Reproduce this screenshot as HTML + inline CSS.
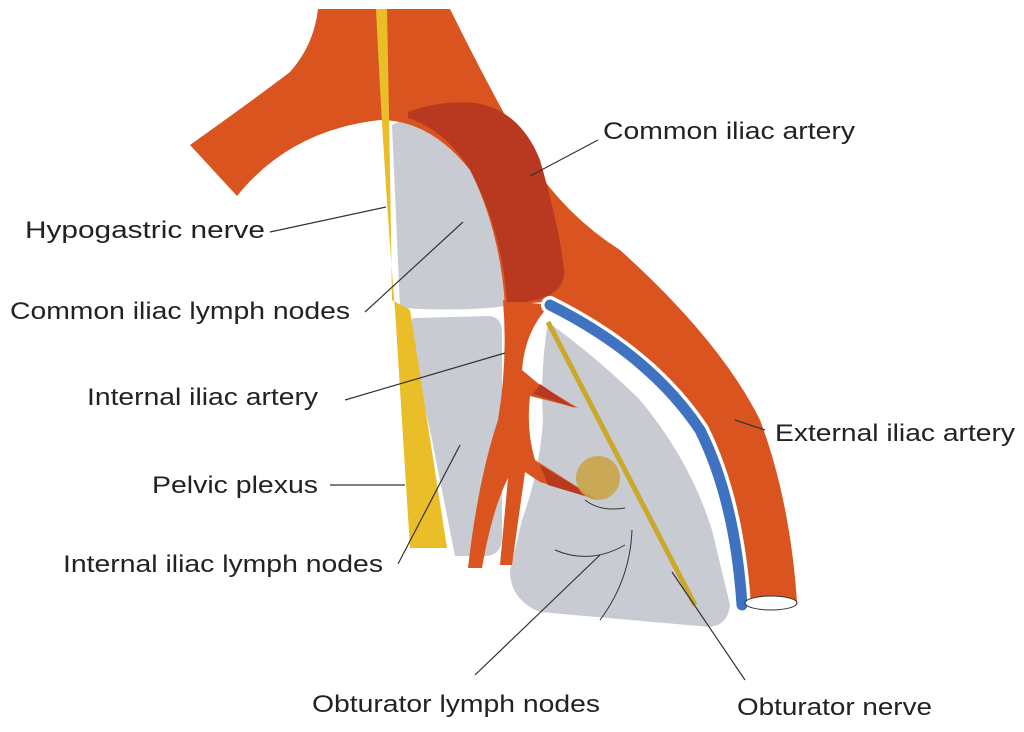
<!DOCTYPE html>
<html><head><meta charset="utf-8"><style>
html,body{margin:0;padding:0;background:#fff;}
svg{display:block}
text{font-family:"Liberation Sans",Arial,sans-serif;font-size:24px;fill:#222;}
</style></head><body>
<svg width="1024" height="732" viewBox="0 0 1024 732" xmlns="http://www.w3.org/2000/svg">
<!-- grey lymph nodes -->
<path d="M392,125 L420,112 Q490,150 510,240 L512,305 Q470,312 400,308 Z" fill="#c9cbd3"/>
<path d="M414,318 L490,316 Q502,318 502,332 L502,540 Q500,556 485,556 L455,556 L432,440 L408,330 Q410,318 414,318 Z" fill="#c9cbd3"/>
<path d="M548,322 Q600,360 640,400 Q690,460 712,530 L730,605 Q728,625 710,627 L540,612 Q510,600 510,570 L522,520 Q540,470 543,420 Q540,370 548,322 Z" fill="#c9cbd3"/>
<!-- common trunk + left branch + external -->
<path d="M318,9 L450,9 Q490,90 530,160 Q565,215 620,250 Q720,340 760,420 Q790,500 797,602 L745,602 Q735,500 700,440 Q650,360 545,302 L505,305 Q500,230 470,170 Q430,120 380,120 Q290,130 237,196 L190,145 Q260,95 290,72 Q314,45 318,9 Z" fill="#d9541e"/>
<!-- internal iliac -->
<path d="M503,300 L550,305 Q525,330 522,370 L540,385 L578,408 L530,396 Q526,430 535,460 L598,500 L540,482 L525,472 L512,565 L500,565 L508,478 Q492,510 482,568 L468,568 Q478,480 498,420 Q508,360 503,300 Z" fill="#d9541e"/>
<!-- darker overlay -->
<path d="M408,112 Q440,100 475,103 Q520,110 540,160 Q560,230 564,270 Q566,296 525,302 L507,302 Q502,230 470,170 Q445,130 408,118 Z" fill="#b8391f"/>
<!-- dark tines -->
<path d="M540,384 L575,408 L533,394 Z" fill="#b8391f"/>
<path d="M540,465 L598,500 L548,485 Z" fill="#b8391f"/>
<!-- obturator yellow circle -->
<circle cx="598" cy="478" r="22" fill="#c9a548" opacity="0.9"/>
<!-- blue vein -->
<path d="M550,305 Q650,355 700,430 Q735,500 742,605" fill="none" stroke="#fff" stroke-width="18" stroke-linecap="round"/>
<path d="M550,305 Q650,355 700,430 Q735,500 742,605" fill="none" stroke="#3f72c0" stroke-width="11" stroke-linecap="round"/>
<!-- artery end -->
<ellipse cx="771" cy="603" rx="26" ry="7" fill="#fff" stroke="#333" stroke-width="1"/>
<!-- obturator nerve -->
<line x1="548" y1="322" x2="695" y2="605" stroke="#c9a82a" stroke-width="5"/>
<!-- hypogastric nerve & pelvic plexus -->
<path d="M376,9 L387,9 Q390,160 392,300 L410,310 L447,548 L410,548 L395,310 Q383,160 376,9 Z" fill="#e9be28"/>
<!-- thin lines in obturator node -->
<g fill="none" stroke="#333" stroke-width="1">
<path d="M555,550 Q590,565 625,545"/>
<path d="M632,530 Q630,580 600,620"/>
<path d="M585,500 Q600,512 625,508"/>
</g>
<!-- leader lines -->
<g stroke="#333" stroke-width="1.2">
<line x1="598" y1="140" x2="530" y2="176"/>
<line x1="270" y1="232" x2="386" y2="207"/>
<line x1="365" y1="312" x2="463" y2="222"/>
<line x1="345" y1="400" x2="505" y2="353"/>
<line x1="765" y1="430" x2="735" y2="420"/>
<line x1="330" y1="485" x2="405" y2="485"/>
<line x1="398" y1="564" x2="460" y2="445"/>
<line x1="475" y1="675" x2="600" y2="555"/>
<line x1="745" y1="680" x2="672" y2="572"/>
</g>
<text x="603" y="139" textLength="252" lengthAdjust="spacingAndGlyphs">Common iliac artery</text>
<text x="25" y="238" textLength="240" lengthAdjust="spacingAndGlyphs">Hypogastric nerve</text>
<text x="10" y="319" textLength="340" lengthAdjust="spacingAndGlyphs">Common iliac lymph nodes</text>
<text x="87" y="405" textLength="231" lengthAdjust="spacingAndGlyphs">Internal iliac artery</text>
<text x="775" y="441" textLength="240" lengthAdjust="spacingAndGlyphs">External iliac artery</text>
<text x="152" y="493" textLength="166" lengthAdjust="spacingAndGlyphs">Pelvic plexus</text>
<text x="63" y="572" textLength="320" lengthAdjust="spacingAndGlyphs">Internal iliac lymph nodes</text>
<text x="312" y="712" textLength="288" lengthAdjust="spacingAndGlyphs">Obturator lymph nodes</text>
<text x="737" y="715" textLength="195" lengthAdjust="spacingAndGlyphs">Obturator nerve</text>
</svg>
</body></html>
